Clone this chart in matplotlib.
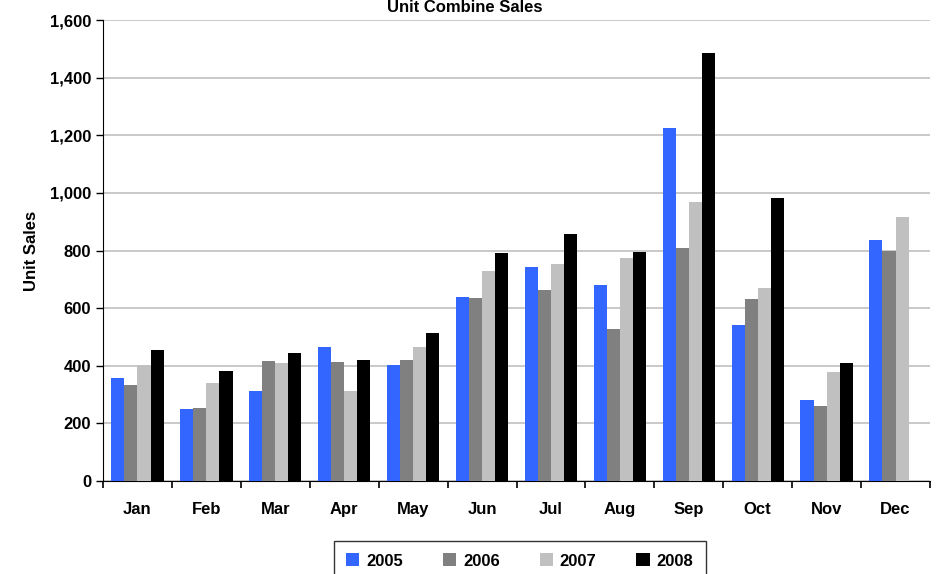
import matplotlib
matplotlib.use('Agg')
import matplotlib.pyplot as plt
import numpy as np
from matplotlib.ticker import FuncFormatter, MultipleLocator

plt.rcParams['font.family'] = ['Liberation Sans Narrow', 'Liberation Sans', 'DejaVu Sans']
plt.rcParams['font.weight'] = 'bold'
plt.rcParams['axes.labelweight'] = 'bold'

months = ['Jan', 'Feb', 'Mar', 'Apr', 'May', 'Jun', 'Jul', 'Aug', 'Sep', 'Oct', 'Nov', 'Dec']
years = ['2005', '2006', '2007', '2008']
sales_2005 = [357, 250, 312, 465, 402, 640, 744, 682, 1224, 543, 282, 838]
sales_2006 = [333, 253, 416, 413, 420, 636, 663, 528, 810, 633, 261, 800]
sales_2007 = [401, 340, 410, 312, 465, 730, 754, 775, 970, 671, 379, 915]
sales_2008 = [455, 382, 444, 420, 513, 792, 857, 795, 1485, 984, 410, np.nan]
colors = ['#3366ff', '#808080', '#c0c0c0', '#000000']

fig = plt.figure(figsize=(9.38, 5.74), dpi=100)
ax = fig.add_axes([0.1098, 0.162, 0.8817, 0.803])

x = np.arange(len(months))
w = 0.19
series = [sales_2005, sales_2006, sales_2007, sales_2008]
for i, (vals, c, lab) in enumerate(zip(series, colors, years)):
    ax.bar(x + (i - 1.5) * w, vals, width=w, color=c, label=lab, zorder=3)

ax.set_xlim(-0.5, 11.5)
ax.set_ylim(0, 1600)
ax.yaxis.set_major_locator(MultipleLocator(200))
ax.yaxis.set_major_formatter(FuncFormatter(lambda v, p: f'{int(v):,}'))
ax.grid(axis='y', color='#c0c0c0', lw=1.2, zorder=0)

ax.set_xticks(x)
ax.set_xticklabels(months)
ax.set_xticks(np.arange(-0.5, 12, 1), minor=True)
ax.tick_params(axis='x', which='major', length=0, pad=15, labelsize=12)
ax.tick_params(axis='x', which='minor', length=5, width=1.2, direction='out')
ax.tick_params(axis='y', length=5, width=1, labelsize=12)

for s in ['top', 'right']:
    ax.spines[s].set_visible(False)
ax.spines['left'].set_color('#000000')
ax.spines['bottom'].set_color('#000000')

ax.set_ylabel('Unit Sales', fontsize=12, labelpad=8)
fig.text(0.496, 0.987, 'Unit Combine Sales', ha='center', va='center', fontsize=12)

leg = fig.legend(loc='upper center', bbox_to_anchor=(0.554, 0.0575), ncol=4,
                 frameon=True, fancybox=False, edgecolor='#000000',
                 fontsize=12, handlelength=0.8, handleheight=0.8,
                 columnspacing=2.4, handletextpad=0.4, borderpad=0.75,
                 borderaxespad=0)
leg.get_frame().set_linewidth(1.0)

fig.savefig('out.png', dpi=100)
